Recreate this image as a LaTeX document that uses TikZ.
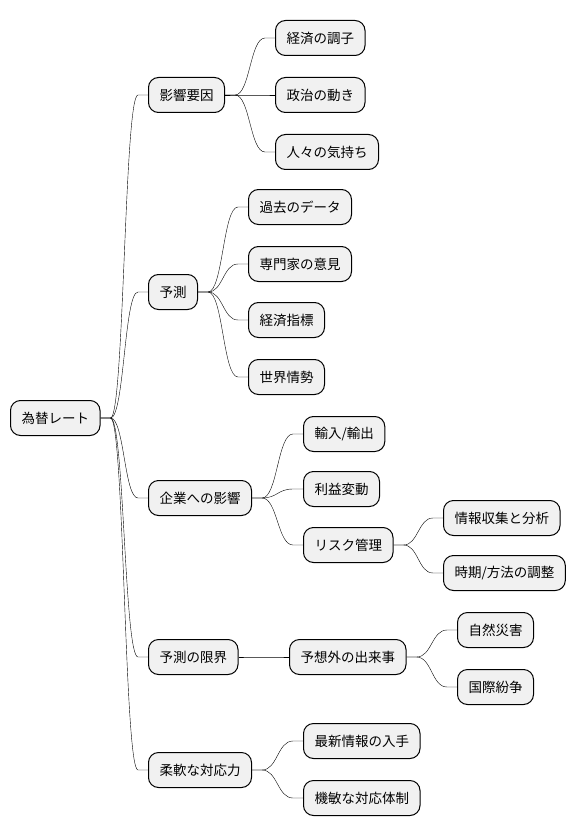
\documentclass[tikz,border=0pt]{standalone}
\usepackage{fontspec}
\setmainfont{Noto Sans CJK JP}
\usetikzlibrary{calc}
\definecolor{nodefill}{HTML}{F1F1F1}
\tikzset{
  mm/.style={draw=black, line width=1pt, fill=nodefill, rounded corners=10pt,
    anchor=west, minimum height=35pt, inner xsep=11pt, inner ysep=0pt,
    font=\fontsize{13.5}{16}\selectfont},
  br/.style={line width=0.9pt, to path={let \p1=(\tikztostart), \p2=(\tikztotarget), \n1={(\x1+\x2)/2} in
    -- (\x1+10pt,\y1) .. controls (\n1,\y1) and (\n1,\y2) .. (\x2-10pt,\y2) -- (\x2,\y2)}}
}
\begin{document}
\begin{tikzpicture}[x=1pt,y=-1pt]
\useasboundingbox[fill=white] (0,0) rectangle (577,837);
\node[mm] (r) at (10,418) {為替レート};
\node[mm] (a) at (148,95) {影響要因};
\node[mm] (a1) at (275,38) {経済の調子};
\node[mm] (a2) at (275,95) {政治の動き};
\node[mm] (a3) at (275,152) {人々の気持ち};
\node[mm] (b) at (148,292) {予測};
\node[mm] (b1) at (248,207) {過去のデータ};
\node[mm] (b2) at (248,264) {専門家の意見};
\node[mm] (b3) at (248,320) {経済指標};
\node[mm] (b4) at (248,377) {世界情勢};
\node[mm] (c) at (148,498) {企業への影響};
\node[mm] (c1) at (303,434) {輸入/輸出};
\node[mm] (c2) at (303,489) {利益変動};
\node[mm] (c3) at (303,545) {リスク管理};
\node[mm] (c31) at (443,518) {情報収集と分析};
\node[mm] (c32) at (443,573) {時期/方法の調整};
\node[mm] (d) at (148,657) {予測の限界};
\node[mm] (d1) at (289,657) {予想外の出来事};
\node[mm] (d11) at (457,630) {自然災害};
\node[mm] (d12) at (457,687) {国際紛争};
\node[mm] (e) at (148,770) {柔軟な対応力};
\node[mm] (e1) at (303,741) {最新情報の入手};
\node[mm] (e2) at (303,798) {機敏な対応体制};
\foreach \p/\c in {r/a,r/b,r/c,r/d,r/e,a/a1,a/a2,a/a3,b/b1,b/b2,b/b3,b/b4,c/c1,c/c2,c/c3,c3/c31,c3/c32,d/d1,d1/d11,d1/d12,e/e1,e/e2}
  \draw (\p.east) to[br] (\c.west);
\end{tikzpicture}
\end{document}
